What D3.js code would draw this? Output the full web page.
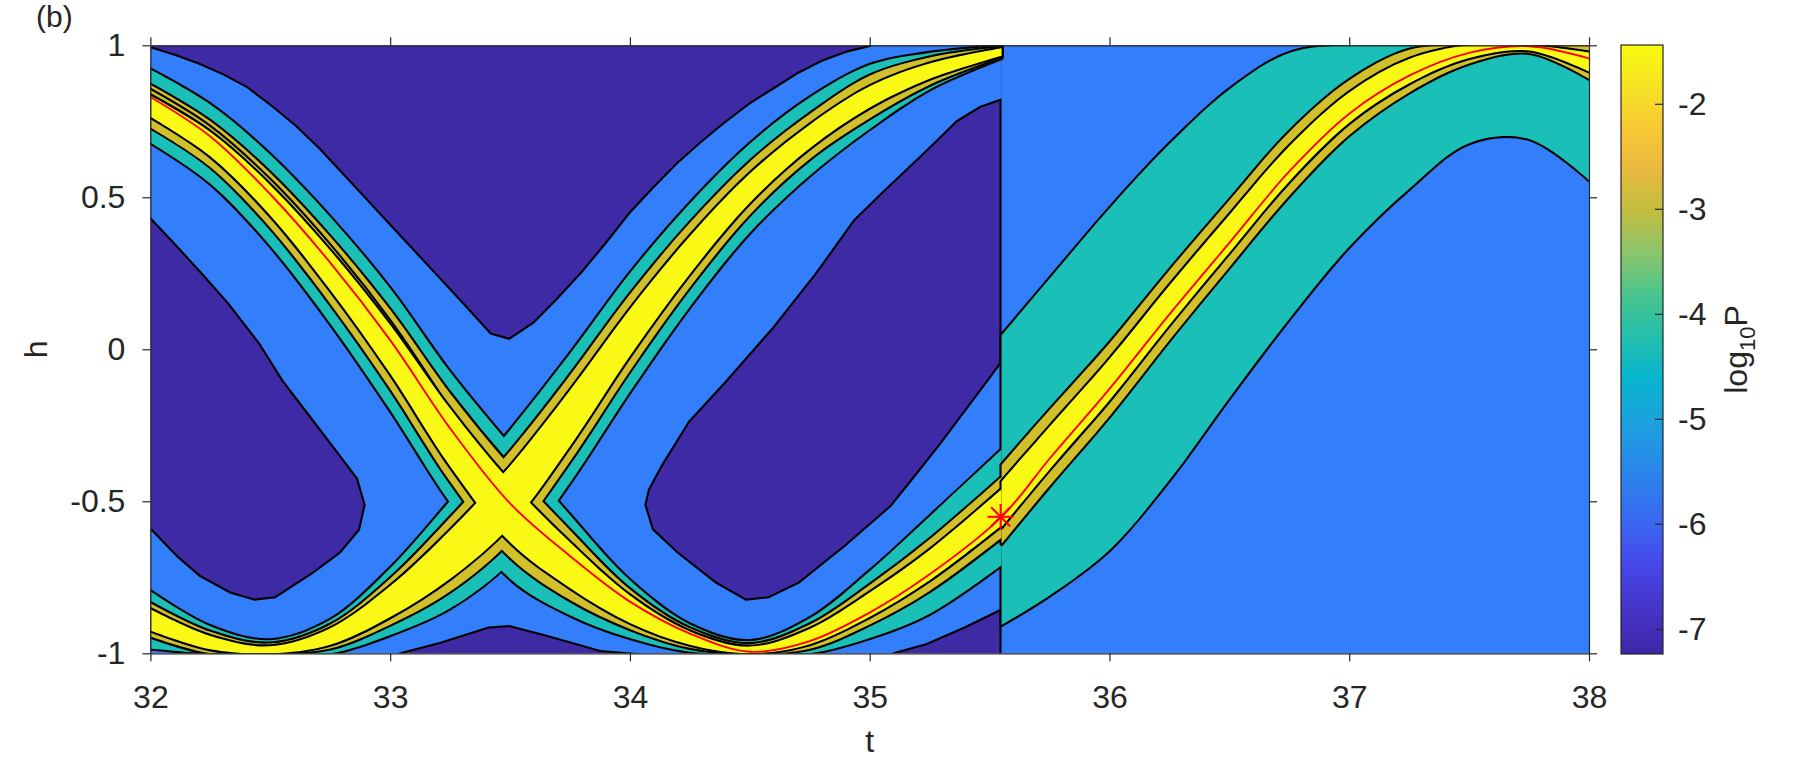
<!DOCTYPE html>
<html><head><meta charset="utf-8">
<script src="https://cdn.jsdelivr.net/npm/d3@7"></script>
<style>
body{margin:0;background:#fff;}
text{font-family:"Liberation Sans",Arial,Helvetica,sans-serif;fill:#262626;}
</style>
</head><body>
<svg id="chart" width="1800" height="758"></svg>
<script>
// ---------------- data ----------------
const tTicks = [32, 33, 34, 35, 36, 37, 38];
const hTicks = [-1, -0.5, 0, 0.5, 1];
const cbTicks = [-7, -6, -5, -4, -3, -2];
const cbDomain = [-7.24, -1.44];
const tBreak = 35.55;

const levelColors = ["#3e2aa4", "#327efb", "#1abfb7", "#d1c02a", "#f9f915"];

// colorbar (parula) stops
const cbStopValues = [-7.24, -6.8, -6.4, -6.0, -5.5, -5.0, -4.6, -4.2, -3.8, -3.4, -3.0, -2.6, -2.2, -1.9, -1.44];
const cbStopColors = ["#3e26a8", "#4535c8", "#4747e9", "#3a66f2", "#2a86ea", "#1ba3dd", "#07b5cd", "#25bfab",
                      "#4cc58c", "#8ec56a", "#c3bd3d", "#ebb940", "#f9c932", "#f5df28", "#f9fb0e"];

// band A (left of the jump): centre of the yellow ridge and vertical half-widths of each level
const tLeft   = [32, 32.25, 32.5, 32.75, 33, 33.25, 33.5, 33.75, 34, 34.25, 34.5, 34.75, 35, 35.25, 35.55];
const centerA = [0.80, 0.675, 0.49, 0.26, 0.0, -0.29, -0.535, -0.71, -0.855, -0.95, -0.99, -0.945, -0.84, -0.71, -0.52];
const yellowA = [0.035, 0.04, 0.05, 0.065, 0.08, 0.095, 0.10, 0.075, 0.045, 0.022, 0.012, 0.025, 0.04, 0.05, 0.06];
const oliveA  = [0.07, 0.075, 0.09, 0.11, 0.13, 0.145, 0.15, 0.115, 0.065, 0.032, 0.02, 0.04, 0.065, 0.085, 0.10];
const tealA   = [0.12, 0.13, 0.15, 0.175, 0.20, 0.215, 0.22, 0.165, 0.095, 0.045, 0.03, 0.06, 0.11, 0.16, 0.19];
// extra contour inside the upper olive strip of band A (offset above the centre)
const tExtraA   = [32, 32.25, 32.5, 32.75, 33, 33.2];
const extraA    = [0.057, 0.06, 0.071, 0.086, 0.097, 0.096];

// band B (left of the jump)
const centerB = [-0.89, -0.965, -0.99, -0.945, -0.83, -0.675, -0.483, -0.227, 0.055, 0.31, 0.53, 0.70, 0.83, 0.915, 0.978];
const yellowB = [0.035, 0.022, 0.013, 0.027, 0.051, 0.08, 0.099, 0.092, 0.077, 0.062, 0.048, 0.039, 0.035, 0.025, 0.012];
const oliveB  = [0.055, 0.036, 0.022, 0.039, 0.076, 0.122, 0.148, 0.142, 0.126, 0.106, 0.087, 0.074, 0.07, 0.045, 0.016];
const tealB   = [0.094, 0.054, 0.033, 0.055, 0.11, 0.177, 0.217, 0.212, 0.195, 0.17, 0.146, 0.128, 0.105, 0.06, 0.02];

// band after the jump
const tRight    = [35.55, 35.75, 36, 36.25, 36.5, 36.75, 37, 37.25, 37.5, 37.75, 38];
const centerR   = [-0.51, -0.325, -0.10, 0.145, 0.38, 0.61, 0.795, 0.915, 0.98, 0.995, 0.945];
const yellowR   = [0.075, 0.07, 0.068, 0.065, 0.062, 0.058, 0.05, 0.04, 0.022, 0.012, 0.031];
const oliveR    = [0.13, 0.125, 0.12, 0.115, 0.11, 0.105, 0.09, 0.07, 0.04, 0.02, 0.055];
const tealRLow  = [-0.907, -0.81, -0.66, -0.43, -0.16, 0.10, 0.338, 0.528, 0.678, 0.692, 0.557];
const tealRHigh = [0.046, 0.232, 0.463, 0.675, 0.855, 0.975, 1.0, 1.0, 1.0, 1.0, 1.0];

// dark (lowest level) islands: contour edge, plus frame points that close them along the axes
const islandTop = [[32, 0.99], [32.1, 0.966], [32.2, 0.937], [32.3, 0.902], [32.4, 0.86], [32.5, 0.80], [32.6, 0.735],
  [32.7, 0.66], [32.8, 0.575], [32.9, 0.49], [33.0, 0.405], [33.1, 0.32], [33.2, 0.235], [33.3, 0.15], [33.417, 0.049],
  [33.497, 0.031], [33.6, 0.085], [33.7, 0.165], [33.8, 0.25], [33.9, 0.345], [34.0, 0.445], [34.1, 0.53], [34.2, 0.61],
  [34.3, 0.68], [34.4, 0.745], [34.5, 0.805], [34.6, 0.855], [34.7, 0.905], [34.8, 0.945], [34.9, 0.975], [35.006, 0.995]];
const islandTopFrame = [[35.006, 1], [32, 1]];
const islandLeft = [[32, 0.436], [32.091, 0.36], [32.219, 0.25], [32.33, 0.151], [32.458, 0.02], [32.554, -0.101],
  [32.65, -0.2], [32.778, -0.332], [32.866, -0.424], [32.898, -0.512], [32.874, -0.595], [32.794, -0.671],
  [32.682, -0.737], [32.522, -0.819], [32.434, -0.827], [32.331, -0.803], [32.203, -0.748], [32.107, -0.682], [32, -0.594]];
const islandMid = [[35.55, 0.826], [35.458, 0.80], [35.362, 0.754], [35.234, 0.656], [35.058, 0.524], [34.931, 0.426],
  [34.771, 0.25], [34.595, 0.074], [34.39, -0.11], [34.244, -0.235], [34.13, -0.38], [34.075, -0.46], [34.06, -0.512],
  [34.092, -0.594], [34.196, -0.671], [34.356, -0.77], [34.483, -0.827], [34.579, -0.819], [34.707, -0.77], [34.899, -0.649],
  [35.09, -0.518], [35.2, -0.41], [35.3, -0.31], [35.4, -0.205], [35.49, -0.11], [35.55, -0.046], [35.55, 0.826]];
const islandBottom = [[33.03, -1], [33.049, -0.995], [33.209, -0.962], [33.409, -0.912], [33.497, -0.907],
  [33.657, -0.94], [33.877, -0.989], [34.04, -1]];
const islandBottomRight = [[35.09, -1], [35.106, -0.995], [35.234, -0.967], [35.394, -0.912], [35.55, -0.852], [35.55, -1]];

// red trajectory and the marked point
const redT = [32, 32.25, 32.5, 32.75, 33, 33.25, 33.5, 33.75, 34, 34.25, 34.5, 34.75, 35, 35.25, 35.55,
              35.75, 36, 36.25, 36.5, 36.75, 37, 37.25, 37.5, 37.75, 38];
const redH = [0.83, 0.70, 0.51, 0.285, 0.03, -0.26, -0.507, -0.68, -0.83, -0.935, -0.995, -0.96, -0.866, -0.74, -0.551,
              -0.36, -0.13, 0.115, 0.35, 0.585, 0.775, 0.90, 0.975, 0.997, 0.957];
const starPoint = [35.546, -0.551];

// ---------------- drawing ----------------
const svg = d3.select("#chart");
const x = d3.scaleLinear().domain([32, 38]).range([150.4, 1589]);
const y = d3.scaleLinear().domain([-1, 1]).range([653.3, 45.3]);
const color = d3.scaleOrdinal().domain([0, 1, 2, 3, 4]).range(levelColors);
const lw = 2.1;

svg.append("rect").attr("width", 1800).attr("height", 758).attr("fill", "#fff");
const defs = svg.append("defs");
defs.append("clipPath").attr("id", "plotClip").append("rect")
  .attr("x", x(32)).attr("y", y(1)).attr("width", x(38) - x(32)).attr("height", y(-1) - y(1));

const smooth = d3.line().x(d => x(d[0])).y(d => y(d[1])).curve(d3.curveCatmullRom.alpha(0.5));
const poly = d3.line().x(d => x(d[0])).y(d => y(d[1]));
const clampH = v => Math.max(-1, Math.min(1, v));

function bandPath(ts, lo, hi) {
  const up = ts.map((t, i) => [t, clampH(hi[i])]);
  const dn = ts.map((t, i) => [t, clampH(lo[i])]).reverse();
  return smooth(up) + "L" + smooth(dn).slice(1) + "Z";
}
function centred(ts, c, w) {
  return bandPath(ts, c.map((v, i) => v - w[i]), c.map((v, i) => v + w[i]));
}

const gc = svg.append("g").attr("clip-path", "url(#plotClip)");
gc.append("rect").attr("x", x(32)).attr("y", y(1)).attr("width", x(38) - x(32)).attr("height", y(-1) - y(1))
  .attr("fill", color(0));

// level 1: everything except the dark islands
const islands = [
  {edge: islandTop, frame: islandTopFrame},
  {edge: islandLeft, frame: []},
  {edge: islandMid, frame: []},
  {edge: islandBottom, frame: []},
  {edge: islandBottomRight, frame: []}
];
const g1 = gc.append("g");
islands.forEach(is => {
  g1.append("path").attr("d", poly(is.edge)).attr("fill", "none")
    .attr("stroke", "#000").attr("stroke-width", 2 * lw).attr("stroke-linejoin", "round");
});
const leftRect = poly([[32, -1], [tBreak, -1], [tBreak, 1], [32, 1]]) + "Z";
const rightRect = poly([[tBreak, -1], [38, -1], [38, 1], [tBreak, 1]]) + "Z";
g1.append("path").attr("d", leftRect + islands.map(is => poly(is.edge.concat(is.frame)) + "Z").join(""))
  .attr("fill", color(1)).attr("fill-rule", "evenodd");
g1.append("path").attr("d", rightRect).attr("fill", color(1));

// higher levels: bands
const levels = [
  {lev: 2, paths: [centred(tLeft, centerA, tealA), centred(tLeft, centerB, tealB), bandPath(tRight, tealRLow, tealRHigh)]},
  {lev: 3, paths: [centred(tLeft, centerA, oliveA), centred(tLeft, centerB, oliveB), centred(tRight, centerR, oliveR)]},
  {lev: 4, paths: [centred(tLeft, centerA, yellowA), centred(tLeft, centerB, yellowB), centred(tRight, centerR, yellowR)]}
];
levels.forEach(L => {
  const g = gc.append("g");
  L.paths.forEach(p => g.append("path").attr("d", p).attr("fill", "none")
    .attr("stroke", "#000").attr("stroke-width", 2 * lw).attr("stroke-linejoin", "round"));
  L.paths.forEach(p => g.append("path").attr("d", p).attr("fill", color(L.lev)));
  if (L.lev === 3) {
    const cA = d3.scaleLinear().domain(tLeft).range(centerA);
    g.append("path").attr("d", smooth(tExtraA.map((t, i) => [t, cA(t) + extraA[i]])))
      .attr("fill", "none").attr("stroke", "#000").attr("stroke-width", lw);
  }
});

// red trajectory
gc.append("path").attr("d", smooth(redT.map((t, i) => [t, redH[i]])))
  .attr("fill", "none").attr("stroke", "#ff0000").attr("stroke-width", 1.9);
// star marker
const sx = x(starPoint[0]), sy = y(starPoint[1]), r = 13, rd = 9.5;
const star = svg.append("g").attr("stroke", "#ff0000").attr("stroke-width", 2);
[[-r, 0, r, 0], [0, -r, 0, r], [-rd, -rd, rd, rd], [-rd, rd, rd, -rd]].forEach(s => {
  star.append("line").attr("x1", sx + s[0]).attr("y1", sy + s[1]).attr("x2", sx + s[2]).attr("y2", sy + s[3]);
});

// axes
const fs = 32;
function styleAxis(g) {
  g.select(".domain").attr("stroke", "#262626").attr("stroke-width", 1.2);
  g.selectAll(".tick line").attr("stroke", "#262626").attr("stroke-width", 1.2);
  g.selectAll(".tick text").attr("font-size", fs).attr("fill", "#262626")
    .attr("font-family", "'Liberation Sans', Arial, Helvetica, sans-serif");
}
const fmt = d => String(d);
const gxB = svg.append("g").attr("transform", `translate(0,${y(-1)})`)
  .call(d3.axisBottom(x).tickValues(tTicks).tickSize(8).tickSizeOuter(0).tickFormat(fmt));
styleAxis(gxB); gxB.selectAll(".tick text").attr("y", 55).attr("dy", null);
const gxT = svg.append("g").attr("transform", `translate(0,${y(1)})`)
  .call(d3.axisTop(x).tickValues(tTicks).tickSize(8).tickSizeOuter(0).tickFormat(() => ""));
styleAxis(gxT);
const gyL = svg.append("g").attr("transform", `translate(${x(32)},0)`)
  .call(d3.axisLeft(y).tickValues(hTicks).tickSize(8).tickSizeOuter(0).tickFormat(fmt));
styleAxis(gyL); gyL.selectAll(".tick text").attr("x", -25);
const gyR = svg.append("g").attr("transform", `translate(${x(38)},0)`)
  .call(d3.axisRight(y).tickValues(hTicks).tickSize(8).tickSizeOuter(0).tickFormat(() => ""));
styleAxis(gyR);
[gxB, gxT, gyL, gyR].forEach(g => g.attr("font-family", null).attr("font-size", null));

// axis labels
svg.append("text").attr("x", (x(32) + x(38)) / 2).attr("y", 752).attr("text-anchor", "middle")
  .attr("font-size", fs).text("t");
svg.append("text").attr("transform", `translate(47,${(y(1) + y(-1)) / 2}) rotate(-90)`)
  .attr("text-anchor", "middle").attr("font-size", fs).text("h");
svg.append("text").attr("x", 36).attr("y", 27).attr("font-size", 30).text("(b)");

// colorbar
const cbX0 = 1621, cbX1 = 1663;
const cbY = d3.scaleLinear().domain(cbDomain).range([654, 45]);
const cbColor = d3.scaleLinear().domain(cbStopValues).range(cbStopColors);
const grad = defs.append("linearGradient").attr("id", "parula")
  .attr("x1", 0).attr("y1", 1).attr("x2", 0).attr("y2", 0);
cbStopValues.forEach(v => {
  grad.append("stop").attr("offset", (v - cbDomain[0]) / (cbDomain[1] - cbDomain[0])).attr("stop-color", cbColor(v));
});
svg.append("rect").attr("x", cbX0).attr("y", cbY(cbDomain[1])).attr("width", cbX1 - cbX0)
  .attr("height", cbY(cbDomain[0]) - cbY(cbDomain[1])).attr("fill", "url(#parula)")
  .attr("stroke", "#262626").attr("stroke-width", 1.2);
const gcb = svg.append("g").attr("transform", `translate(${cbX1},0)`)
  .call(d3.axisRight(cbY).tickValues(cbTicks).tickSizeInner(-8).tickSizeOuter(0).tickFormat(fmt));
styleAxis(gcb); gcb.select(".domain").remove();
gcb.selectAll(".tick text").attr("x", 15);
gcb.attr("font-family", null).attr("font-size", null);

const cbl = svg.append("text").attr("transform", `translate(1747,${(cbY(cbDomain[0]) + cbY(cbDomain[1])) / 2}) rotate(-90)`)
  .attr("text-anchor", "middle").attr("font-size", fs);
cbl.append("tspan").text("log");
cbl.append("tspan").attr("font-size", 22).attr("dy", 8).text("10");
cbl.append("tspan").attr("dy", -8).text("P");
</script>
</body></html>
